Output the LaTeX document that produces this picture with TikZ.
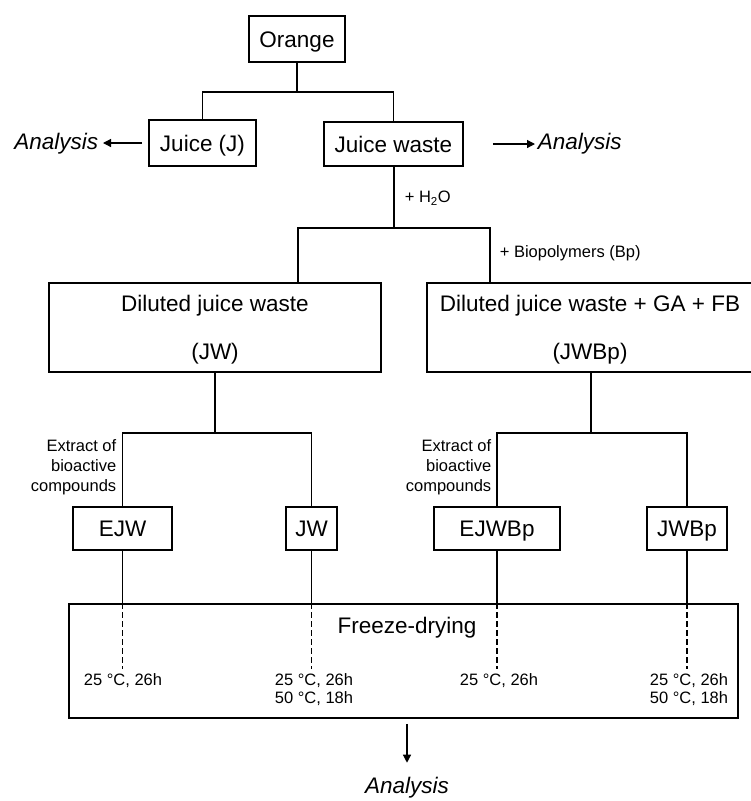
\documentclass[tikz,border=0pt]{standalone}
\usepackage{fontspec}
\setmainfont{Liberation Sans}
\usepackage{xcolor}
\usepackage{tikz}
\usetikzlibrary{arrows.meta, positioning, calc}

\newcommand{\bigfont}{\fontsize{22.5}{27}\selectfont}
\newcommand{\smallfont}{\fontsize{16.5}{20}\selectfont}

\begin{document}
\begin{tikzpicture}[x=1pt, y=-1pt, line width=1.6pt,
  box/.style={draw, inner sep=0pt, font=\bigfont, align=center},
  unit/.style={box, text height=20pt, text depth=4pt},
  note/.style={font=\smallfont, inner sep=0pt},
  temp/.style={font=\fontsize{16.5}{18}\selectfont, inner sep=0pt, align=center, anchor=north},
  ana/.style={font=\bigfont\itshape, inner sep=0pt},
  tip/.style={-{Triangle[length=8pt, width=8pt]}, line width=1.2pt},
  dryline/.style={dash pattern=on 6pt off 3pt, line width=1.3pt}]
  \useasboundingbox (0,0) rectangle (751,801);

  % Top: Orange -> Juice / Juice waste
  \node[unit, minimum width=96pt, minimum height=46pt] (orange) at (297,39) {Orange};
  \node[unit, minimum width=107pt, minimum height=46pt] (juice) at (202.5,143) {Juice (J)};
  \node[unit, minimum width=139pt, minimum height=44pt] (waste) at (393.5,144) {Juice waste};
  \coordinate (split1) at (297,92);
  \draw (orange.south) -- (split1);
  \draw (juice.north) |- (split1) -| (waste.north);

  % Analysis of juice and waste
  \node[ana, anchor=east] (anaL) at (99,144) {Analysis};
  \node[ana, anchor=west] (anaR) at (537,144) {Analysis};
  \draw[tip, shorten <=6pt, shorten >=4pt] (juice.west) -- (juice.west -| anaL.east);
  \draw[tip, shorten <=29pt, shorten >=2pt] (waste.east) -- (waste.east -| anaR.west);

  % Dilution
  \node[box, minimum width=332pt, minimum height=89pt] (dil) at (215,327.5)
    {\rule{0pt}{20pt}Diluted juice waste\\[21pt](JW)};
  \node[box, minimum width=326pt, minimum height=89pt] (dilbp) at (590,327.5)
    {\rule{0pt}{20pt}Diluted juice waste + GA + FB\\[21pt](JWBp)};
  \coordinate (split2) at (394,228);
  \coordinate (dilin) at (298,283);
  \coordinate (dilbpin) at (490,283);
  \draw (waste.south -| split2) -- (split2);
  \draw (dilin) |- (split2) -| (dilbpin);
  \node[note, anchor=west] (water) at (404,198) {+ H\textsubscript{2}O};
  \node[note, anchor=west] (biopol) at (499,253) {+ Biopolymers (Bp)};

  % Samples
  \node[unit, minimum width=99pt, minimum height=43pt] (ejw) at (122.5,528.5) {EJW};
  \node[unit, minimum width=51pt, minimum height=43pt] (jw) at (311.5,528.5) {JW};
  \node[unit, minimum width=126pt, minimum height=43pt] (ejwbp) at (497,528.5) {EJWBp};
  \node[unit, minimum width=80pt, minimum height=43pt] (jwbp) at (687,528.5) {JWBp};
  \coordinate (split3) at (215,433);
  \coordinate (split4) at (591,433);
  \draw (dil.south) -- (split3);
  \draw (ejw.north) |- (split3) -| (jw.north);
  \draw (dilbp.south -| split4) -- (split4);
  \draw (ejwbp.north) |- (split4) -| (jwbp.north);
  \node[note, align=right, anchor=east] (ext1) at (117,467) {Extract of\\bioactive\\compounds};
  \node[note, align=right, anchor=east] (ext2) at (492,467) {Extract of\\bioactive\\compounds};

  % Freeze-drying
  \node[box, minimum width=669pt, minimum height=114pt] (freeze) at (403.5,661) {};
  \node[font=\bigfont, inner sep=0pt] (fdlbl) at (407,628) {Freeze-drying};
  \node[temp] (t1) at (123,673) {25 °C, 26h};
  \node[temp] (t2) at (314,673) {25 °C, 26h\\50 °C, 18h};
  \node[temp] (t3) at (499,673) {25 °C, 26h};
  \node[temp] (t4) at (689,673) {25 °C, 26h\\50 °C, 18h};
  \foreach \s/\t in {ejw/t1, jw/t2, ejwbp/t3, jwbp/t4}{
    \draw (\s.south) -- (\s.south |- freeze.north);
    \draw[dryline, shorten >=4pt] (\s.south |- freeze.north) -- (\s.south |- \t.north);
  }

  % Final analysis
  \node[ana] (anaB) at (407,788) {Analysis};
  \draw[tip, shorten <=5pt, shorten >=14pt] (freeze.south -| anaB.north) -- (anaB.north);
\end{tikzpicture}
\end{document}
